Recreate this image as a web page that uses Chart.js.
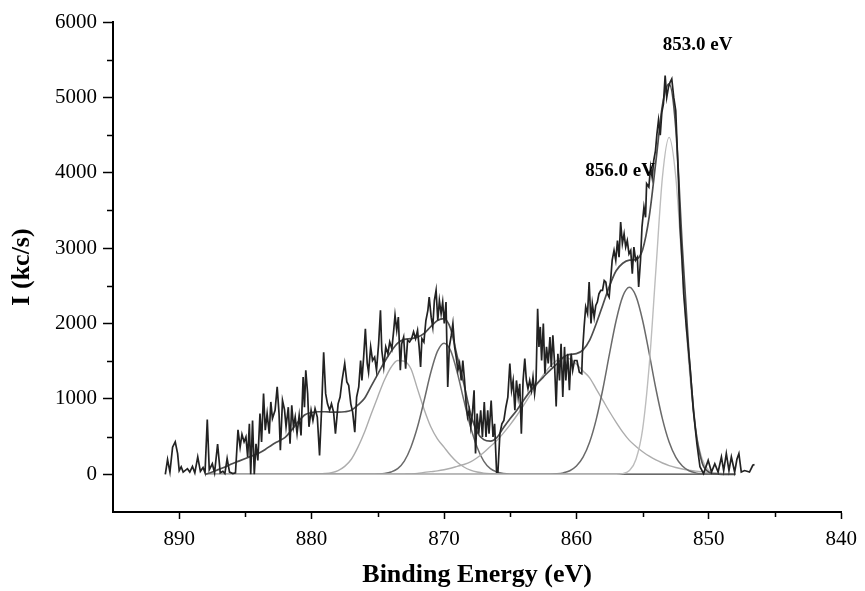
<!DOCTYPE html>
<html>
<head>
<meta charset="utf-8">
<script src="https://cdn.jsdelivr.net/npm/chart.js@4/dist/chart.umd.min.js"></script>
<style>
  html, body { margin: 0; padding: 0; background: #fff; }
  canvas { display: block; }
</style>
</head>
<body>
<canvas id="xps" width="865" height="591"></canvas>
<script>
// measured spectrum (binding energy in eV, intensity in kc/s)
const rawEnergy = [
  891.05, 890.88, 890.7, 890.5, 890.3, 890.12, 890.0, 889.85, 889.7, 889.38,
  889.2, 889.0, 888.82, 888.6, 888.4, 888.2, 888.05, 887.88, 887.73, 887.5,
  887.33, 887.1, 886.9, 886.7, 886.55, 886.38, 886.2, 885.95, 885.75, 885.56,
  885.4, 885.26, 885.1, 884.96, 884.83, 884.7, 884.6, 884.46, 884.33, 884.2,
  884.06, 883.9, 883.78, 883.63, 883.5, 883.36, 883.2, 883.08, 882.96, 882.76,
  882.6, 882.46, 882.36, 882.2, 882.05, 881.93, 881.76, 881.63, 881.5, 881.37,
  881.24, 881.1, 880.94, 880.8, 880.64, 880.54, 880.44, 880.3, 880.2, 880.04,
  879.9, 879.74, 879.57, 879.4, 879.24, 879.09, 878.94, 878.8, 878.64, 878.5,
  878.34, 878.2, 878.0, 877.85, 877.7, 877.5, 877.34, 877.2, 877.04, 876.9,
  876.74, 876.6, 876.44, 876.3, 876.2, 876.07, 875.94, 875.8, 875.7, 875.54,
  875.4, 875.24, 875.1, 874.94, 874.8, 874.7, 874.55, 874.4, 874.24, 874.1,
  873.94, 873.8, 873.7, 873.57, 873.45, 873.3, 873.2, 873.05, 872.9, 872.75,
  872.6, 872.45, 872.3, 872.15, 872.0, 871.88, 871.77, 871.67, 871.52, 871.37,
  871.22, 871.12, 870.97, 870.85, 870.73, 870.6, 870.47, 870.35, 870.22, 870.1,
  869.98, 869.85, 869.72, 869.6, 869.45, 869.33, 869.2, 869.08, 868.95, 868.83,
  868.7, 868.58, 868.45, 868.33, 868.22, 868.1, 867.98, 867.85, 867.73, 867.62,
  867.5, 867.38, 867.23, 867.1, 866.96, 866.83, 866.7, 866.6, 866.44, 866.3,
  866.18, 866.03, 865.93, 865.78, 865.63, 865.48, 865.33, 865.18, 865.03, 864.9,
  864.78, 864.65, 864.53, 864.4, 864.28, 864.16, 864.03, 863.9, 863.78, 863.66,
  863.53, 863.4, 863.28, 863.16, 863.05, 862.93, 862.83, 862.73, 862.63, 862.5,
  862.38, 862.26, 862.13, 862.0, 861.9, 861.78, 861.66, 861.53, 861.4, 861.28,
  861.16, 861.03, 860.9, 860.8, 860.66, 860.53, 860.4, 860.28, 860.15, 859.96,
  859.78, 859.6, 859.55, 859.42, 859.3, 859.16, 859.04, 858.9, 858.8, 858.66,
  858.54, 858.42, 858.3, 858.16, 858.03, 857.9, 857.78, 857.66, 857.53, 857.4,
  857.3, 857.16, 857.03, 856.9, 856.78, 856.66, 856.53, 856.4, 856.28, 856.16,
  856.03, 855.9, 855.78, 855.66, 855.53, 855.4, 855.3, 855.16, 855.05, 854.9,
  854.78, 854.7, 854.53, 854.4, 854.28, 854.16, 854.03, 853.92, 853.8, 853.67,
  853.55, 853.43, 853.3, 853.18, 853.05, 852.93, 852.8, 852.65, 852.5, 852.3,
  852.17, 852.05, 851.9, 851.7, 851.4, 851.17, 850.9, 850.67, 850.4, 850.05,
  849.8, 849.55, 849.3, 849.05, 848.88, 848.68, 848.48, 848.3, 848.05, 847.88,
  847.73, 847.55, 847.3, 846.93, 846.68, 846.55
];
const rawCounts = [
  0, 195, 30, 360, 430, 275, 50, 100, 30, 75,
  30, 105, 20, 230, 40, 90, 20, 725, 60, 140,
  20, 400, 20, 40, 10, 210, 30, 10, 20, 590,
  360, 530, 430, 495, 230, 670, 0, 715, 0, 405,
  185, 805, 430, 1070, 585, 805, 540, 960, 740, 850,
  1160, 805, 320, 980, 860, 630, 890, 405, 915, 630,
  760, 540, 780, 515, 1290, 890, 1380, 1070, 630, 850,
  715, 870, 760, 250, 890, 1620, 1070, 935, 850, 935,
  825, 540, 935, 1025, 1245, 1470, 1225, 1180, 935, 825,
  560, 1025, 1160, 1510, 1245, 1555, 1930, 1470, 1355, 1690,
  1510, 1555, 1380, 1730, 2175, 1645, 1425, 1690, 1600, 1755,
  1665, 1910, 2110, 1910, 2085, 1380, 1730, 1820, 1400, 1780,
  1755, 1800, 1890, 1800, 1910, 1690, 1425, 1800, 1755, 2040,
  2175, 2350, 2085, 1955, 2305, 2440, 2040, 2305, 2130, 2285,
  2000, 2285, 1160, 1690, 1845, 2000, 1690, 1555, 1380, 1470,
  1245, 1510, 1245, 935, 760, 850, 630, 825, 1115, 275,
  805, 540, 850, 495, 960, 495, 850, 540, 980, 495,
  670, 30, 30, 540, 670, 715, 890, 1025, 1470, 1115,
  1245, 850, 1245, 1025, 1200, 540, 1245, 1535, 1245, 1135,
  1245, 1115, 1290, 1070, 1245, 2195, 1690, 1955, 1510, 2000,
  1335, 1690, 1470, 1820, 1425, 1845, 1500, 900, 1600, 1245,
  1730, 1025, 1690, 1245, 1600, 1115, 1600, 1380, 1510, 1510,
  1355, 1335, 1600, 1955, 2220, 2130, 2550, 2000, 2265, 2085,
  2240, 2285, 2395, 2440, 2440, 2570, 2550, 2395, 2350, 2615,
  2840, 2970, 2840, 3100, 2880, 3345, 3060, 3190, 3015, 3100,
  2925, 2970, 2660, 3015, 2840, 2880, 2485, 2840, 3280, 3545,
  3410, 3855, 3810, 4075, 3940, 4165, 4295, 4515, 4700, 4500,
  4800, 4915, 5290, 5000, 5135, 5200, 5245, 5000, 4825, 3940,
  3280, 2925, 2395, 1955, 1380, 850, 405, 100, 10, 185,
  30, 140, 30, 230, 50, 275, 50, 230, 30, 200,
  275, 30, 50, 30, 120, 130
];

// fit curves, read every 0.5 eV from 888 down to 848
const fitEnergy = [
  888, 887.5, 887, 886.5, 886, 885.5, 885, 884.5, 884, 883.5,
  883, 882.5, 882, 881.5, 881, 880.5, 880, 879.5, 879, 878.5,
  878, 877.5, 877, 876.5, 876, 875.5, 875, 874.5, 874, 873.5,
  873, 872.5, 872, 871.5, 871, 870.5, 870, 869.5, 869, 868.5,
  868, 867.5, 867, 866.5, 866, 865.5, 865, 864.5, 864, 863.5,
  863, 862.5, 862, 861.5, 861, 860.5, 860, 859.5, 859, 858.5,
  858, 857.5, 857, 856.5, 856, 855.5, 855, 854.5, 854, 853.5,
  853, 852.5, 852, 851.5, 851, 850.5, 850, 849.5, 849, 848.5,
  848
];
const envelope = [
  0, 30, 65, 100, 140, 175, 210, 245, 280, 330,
  390, 440, 490, 590, 700, 790, 820, 830, 830, 825,
  825, 830, 850, 920, 1010, 1170, 1330, 1490, 1630, 1740,
  1790, 1800, 1820, 1870, 1960, 2040, 2065, 1930, 1560, 1200,
  810, 560, 460, 440, 490, 620, 740, 850, 980, 1100,
  1200, 1290, 1380, 1460, 1550, 1590, 1600, 1650, 1780, 2000,
  2250, 2500, 2700, 2800, 2840, 2850, 2980, 3420, 4150, 4900,
  5180, 4600, 3000, 1600, 600, 150, 30, 5, 0, 0,
  0
];
const peak853 = [
  0, 0, 0, 0, 0, 0, 0, 0, 0, 0,
  0, 0, 0, 0, 0, 0, 0, 0, 0, 0,
  0, 0, 0, 0, 0, 0, 0, 0, 0, 0,
  0, 0, 0, 0, 0, 0, 0, 0, 0, 0,
  0, 0, 0, 0, 0, 0, 0, 0, 0, 0,
  0, 0, 0, 0, 0, 0, 0, 0, 0, 0,
  0, 0, 0, 10, 50, 200, 600, 1450, 2710, 3950,
  4470, 3950, 2710, 1450, 600, 200, 50, 10, 0, 0,
  0
];
const peak856 = [
  0, 0, 0, 0, 0, 0, 0, 0, 0, 0,
  0, 0, 0, 0, 0, 0, 0, 0, 0, 0,
  0, 0, 0, 0, 0, 0, 0, 0, 0, 0,
  0, 0, 0, 0, 0, 0, 0, 0, 0, 0,
  0, 0, 0, 0, 0, 0, 0, 0, 0, 0,
  0, 0, 2, 7, 19, 47, 109, 227, 428, 732,
  1135, 1600, 2040, 2360, 2480, 2360, 2040, 1600, 1135, 732,
  428, 227, 109, 47, 19, 7, 2, 0, 0, 0,
  0
];
const satellite = [
  0, 0, 0, 0, 0, 0, 0, 0, 0, 0,
  0, 0, 0, 0, 0, 0, 0, 0, 0, 0,
  0, 0, 0, 0, 0, 0, 0, 0, 0, 0,
  3, 6, 12, 25, 35, 45, 60, 80, 105, 130,
  165, 220, 290, 370, 450, 550, 660, 780, 910, 1050,
  1190, 1320, 1430, 1510, 1550, 1530, 1460, 1370, 1280, 1130,
  980, 830, 690, 560, 450, 370, 300, 240, 190, 150,
  115, 90, 70, 55, 42, 32, 24, 18, 13, 9,
  6
];
const peak873 = [
  0, 0, 0, 0, 0, 0, 0, 0, 0, 0,
  0, 0, 0, 0, 0, 0, 3, 5, 10, 22,
  50, 105, 200, 360, 560, 800, 1030, 1250, 1420, 1510,
  1500, 1400, 1130, 860, 630, 470, 360, 250, 160, 97,
  55, 30, 15, 8, 5, 2, 0, 0, 0, 0,
  0, 0, 0, 0, 0, 0, 0, 0, 0, 0,
  0, 0, 0, 0, 0, 0, 0, 0, 0, 0,
  0, 0, 0, 0, 0, 0, 0, 0, 0, 0,
  0
];
const peak870 = [
  0, 0, 0, 0, 0, 0, 0, 0, 0, 0,
  0, 0, 0, 0, 0, 0, 0, 0, 0, 0,
  0, 0, 0, 0, 0, 0, 3, 10, 30, 75,
  175, 360, 630, 980, 1350, 1630, 1740, 1640, 1350, 980,
  630, 360, 175, 75, 30, 10, 2, 0, 0, 0,
  0, 0, 0, 0, 0, 0, 0, 0, 0, 0,
  0, 0, 0, 0, 0, 0, 0, 0, 0, 0,
  0, 0, 0, 0, 0, 0, 0, 0, 0, 0,
  0
];

const xTicks = [890, 880, 870, 860, 850, 840];
const yTicks = [0, 1000, 2000, 3000, 4000, 5000, 6000];
const xMinorTicks = [885, 875, 865, 855, 845];
const yMinorTicks = [500, 1500, 2500, 3500, 4500, 5500];
const peakLabels = [
  { text: '853.0 eV', energy: 850.85, counts: 5690 },
  { text: '856.0 eV', energy: 856.7, counts: 4020 },
];

const SERIF = '"Liberation Serif", "Times New Roman", serif';

const toPoints = (xs, ys) => xs.map((x, i) => ({ x, y: ys[i] }));

const smoothLine = (data, color, width) => ({
  data: toPoints(fitEnergy, data),
  borderColor: color,
  borderWidth: width,
  pointRadius: 0,
  cubicInterpolationMode: 'monotone',
  fill: false,
});

// minor ticks are shorter than the major ones, so they are drawn here
const minorTicks = {
  id: 'minorTicks',
  afterDraw(chart) {
    const { ctx, chartArea, scales: { x, y } } = chart;
    ctx.save();
    ctx.strokeStyle = '#000';
    ctx.lineWidth = 1.5;
    ctx.beginPath();
    yMinorTicks.forEach(v => {
      const py = Math.round(y.getPixelForValue(v)) + 0.5;
      ctx.moveTo(chartArea.left - 6, py);
      ctx.lineTo(chartArea.left, py);
    });
    xMinorTicks.forEach(v => {
      const px = Math.round(x.getPixelForValue(v)) + 0.5;
      ctx.moveTo(px, chartArea.bottom);
      ctx.lineTo(px, chartArea.bottom + 5);
    });
    ctx.stroke();
    ctx.restore();
  },
};

const peakText = {
  id: 'peakText',
  afterDatasetsDraw(chart) {
    const { ctx, scales: { x, y } } = chart;
    ctx.save();
    ctx.font = `bold 19px ${SERIF}`;
    ctx.fillStyle = '#000';
    ctx.textAlign = 'center';
    ctx.textBaseline = 'middle';
    peakLabels.forEach(l => ctx.fillText(l.text, x.getPixelForValue(l.energy), y.getPixelForValue(l.counts)));
    ctx.restore();
  },
};

new Chart(document.getElementById('xps'), {
  type: 'line',
  data: {
    datasets: [
      {
        data: toPoints(rawEnergy, rawCounts),
        borderColor: '#222',
        borderWidth: 1.7,
        pointRadius: 0,
        tension: 0,
        fill: false,
      },
      smoothLine(envelope, '#4d4d4d', 1.7),
      smoothLine(peak853, '#bdbdbd', 1.4),
      smoothLine(peak856, '#6a6a6a', 1.5),
      smoothLine(satellite, '#adadad', 1.4),
      smoothLine(peak870, '#6a6a6a', 1.5),
      smoothLine(peak873, '#adadad', 1.4),
    ],
  },
  options: {
    responsive: false,
    animation: false,
    events: [],
    layout: { padding: { top: 22, right: 17, bottom: 0, left: 0 } },
    plugins: {
      legend: { display: false },
      tooltip: { enabled: false },
    },
    scales: {
      x: {
        type: 'linear',
        reverse: true,
        min: 840,
        max: 895,
        border: { color: '#000', width: 2 },
        grid: {
          drawOnChartArea: false,
          tickLength: 7,
          tickWidth: 1.5,
          tickColor: '#000',
        },
        afterBuildTicks: s => { s.ticks = xTicks.map(value => ({ value })); },
        ticks: {
          autoSkip: false,
          maxRotation: 0,
          padding: 8,
          color: '#000',
          font: { family: SERIF, size: 21 },
          callback: v => String(v),
        },
        title: {
          display: true,
          text: 'Binding Energy (eV)',
          color: '#000',
          font: { family: SERIF, size: 26, weight: 'bold' },
          padding: { top: 0, bottom: 0 },
        },
        afterFit: s => { s.height = 79; },
      },
      y: {
        min: -500,
        max: 6000,
        border: { color: '#000', width: 2 },
        grid: {
          drawOnChartArea: false,
          tickLength: 10,
          tickWidth: 1.5,
          tickColor: '#000',
        },
        afterBuildTicks: s => { s.ticks = yTicks.map(value => ({ value })); },
        ticks: {
          autoSkip: false,
          padding: 6,
          color: '#000',
          font: { family: SERIF, size: 21 },
          callback: v => String(v),
        },
        title: {
          display: true,
          text: 'I (kc/s)',
          color: '#000',
          font: { family: SERIF, size: 26, weight: 'bold' },
          padding: { top: 7, bottom: 0 },
        },
        afterFit: s => { s.width = 113; },
      },
    },
  },
  plugins: [minorTicks, peakText],
});
</script>
</body>
</html>
